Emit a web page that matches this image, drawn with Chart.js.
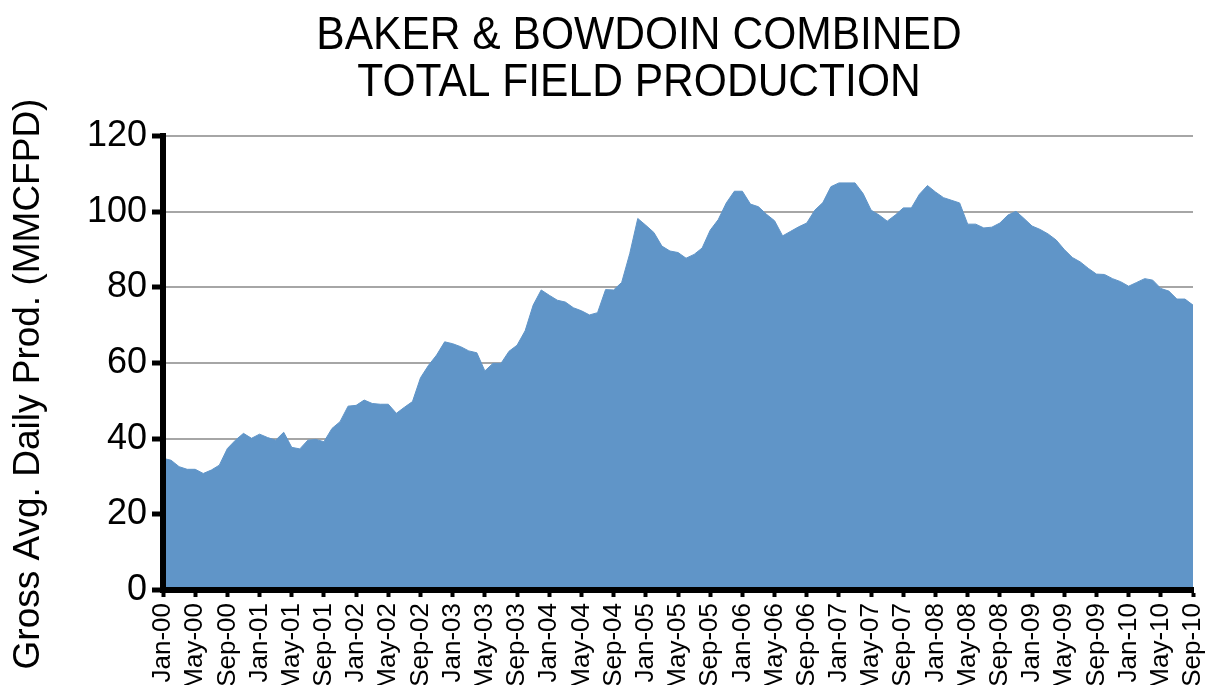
<!DOCTYPE html>
<html>
<head>
<meta charset="utf-8">
<title>Baker & Bowdoin Combined Total Field Production</title>
<script src="https://cdn.jsdelivr.net/npm/chart.js@4/dist/chart.umd.min.js"></script>
<style>
    body { margin: 0; background: #ffffff; }
    #wrap { width: 1205px; height: 685px; }
</style>
</head>
<body>
<div id="wrap"><canvas id="myChart" width="1205" height="685"></canvas></div>
<script>
// Tick label parts (Jan-00 .. Sep-10, one point per month)
const monthNames = ["Jan", "Feb", "Mar", "Apr", "May", "Jun", "Jul", "Aug", "Sep", "Oct", "Nov", "Dec"];
const yearLabels = ["00", "01", "02", "03", "04", "05", "06", "07", "08", "09", "10"];
const lastMonthOfLastYear = 9; // Sep-10

// Gross average daily production (MMCFPD)
const production = [
    34.8, 34.3, 32.6, 31.9, 31.9, 30.8, 31.7, 33.0, 37.4, 39.6,
    41.4, 40.1, 41.2, 40.3, 39.6, 41.7, 37.7, 37.3, 39.6, 39.8,
    39.2, 42.7, 44.5, 48.6, 48.8, 50.2, 49.3, 49.1, 49.1, 46.7,
    48.3, 49.8, 56.1, 59.4, 62.1, 65.6, 65.1, 64.3, 63.2, 62.7,
    57.9, 59.9, 59.9, 63.1, 64.7, 68.5, 75.3, 79.3, 77.9, 76.6,
    76.1, 74.6, 73.8, 72.7, 73.3, 79.4, 79.3, 81.3, 88.9, 98.2,
    96.4, 94.5, 90.9, 89.6, 89.2, 87.7, 88.7, 90.4, 95.1, 97.9,
    102.3, 105.4, 105.4, 102.0, 101.3, 99.3, 97.6, 93.6, 94.8, 96.0,
    97.0, 100.4, 102.4, 106.6, 107.6, 107.6, 107.6, 104.8, 100.4, 99.1,
    97.5, 99.1, 101.0, 101.0, 104.6, 106.9, 105.2, 103.7, 103.0, 102.3,
    96.7, 96.7, 95.7, 95.9, 97.0, 99.1, 100.1, 98.2, 96.2, 95.3,
    94.1, 92.5, 90.0, 87.9, 86.7, 85.0, 83.5, 83.4, 82.3, 81.5,
    80.3, 81.3, 82.3, 81.9, 79.7, 79.0, 76.9, 76.9, 75.3
];

const yTicks = [0, 20, 40, 60, 80, 100, 120];
const titleLines = ["BAKER & BOWDOIN COMBINED", "TOTAL FIELD PRODUCTION"];
const yTitle = "Gross Avg. Daily Prod. (MMCFPD)";

// build "Jan-00" style labels
const labels = [];
yearLabels.forEach(function(yr, yi) {
    monthNames.forEach(function(mn, mi) {
        if (yi === yearLabels.length - 1 && mi > lastMonthOfLastYear - 1) return;
        labels.push(mn + "-" + yr);
    });
});

const FONT = '"Liberation Sans", Arial, Helvetica, sans-serif';

// titles drawn by hand so they sit where the original puts them
const titlePlugin = {
    id: "titles",
    afterDraw(chart) {
        const ctx = chart.ctx;
        ctx.save();
        ctx.fillStyle = "#000000";
        ctx.textAlign = "center";
        ctx.textBaseline = "alphabetic";
        ctx.font = "46px " + FONT;
        [49, 96].forEach(function(base, i) {
            ctx.save();
            ctx.translate(639, base);
            ctx.scale(0.925, 1);
            ctx.fillText(titleLines[i], 0, 0);
            ctx.restore();
        });
        ctx.font = "37px " + FONT;
        ctx.translate(39, 384);
        ctx.rotate(-Math.PI / 2);
        ctx.fillText(yTitle, 0, 0);
        ctx.restore();
    }
};

const ctx = document.getElementById("myChart").getContext("2d");
const myChart = new Chart(ctx, {
    type: "line",
    data: {
        labels: labels,
        datasets: [{
            label: "Production",
            data: production,
            fill: "origin",
            backgroundColor: "#6095c8",
            borderColor: "#6095c8",
            borderWidth: 1,
            pointRadius: 0,
            tension: 0
        }]
    },
    options: {
        responsive: false,
        animation: false,
        devicePixelRatio: 1,
        layout: { padding: { top: 136, right: 12, left: 0, bottom: 0 } },
        plugins: {
            legend: { display: false },
            tooltip: { enabled: false }
        },
        scales: {
            x: {
                offset: false,
                afterFit: function(scale) {
                    scale.height = 95;
                    scale.paddingLeft = 0;
                    scale.paddingRight = 0;
                },
                border: { color: "#000000", width: 6, z: 1 },
                grid: {
                    drawOnChartArea: false,
                    tickColor: "#000000",
                    tickLength: 7,
                    tickWidth: 4
                },
                ticks: {
                    autoSkip: false,
                    maxRotation: 90,
                    minRotation: 90,
                    padding: 6,
                    color: "#000000",
                    font: { family: FONT, size: 26 },
                    callback: function(value, index) {
                        return index % 4 === 0 ? labels[index] : null;
                    }
                }
            },
            y: {
                min: yTicks[0],
                max: yTicks[yTicks.length - 1],
                afterFit: function(scale) { scale.width = 163; },
                afterBuildTicks: function(scale) {
                    scale.ticks = yTicks.map(v => ({ value: v }));
                },
                border: { color: "#000000", width: 6, z: 1 },
                grid: {
                    color: "#a6a6a6",
                    lineWidth: 2,
                    tickColor: "#000000",
                    tickLength: 11,
                    tickWidth: 5
                },
                ticks: {
                    padding: 5,
                    color: "#000000",
                    font: { family: FONT, size: 36 }
                }
            }
        }
    },
    plugins: [titlePlugin]
});
</script>
</body>
</html>
